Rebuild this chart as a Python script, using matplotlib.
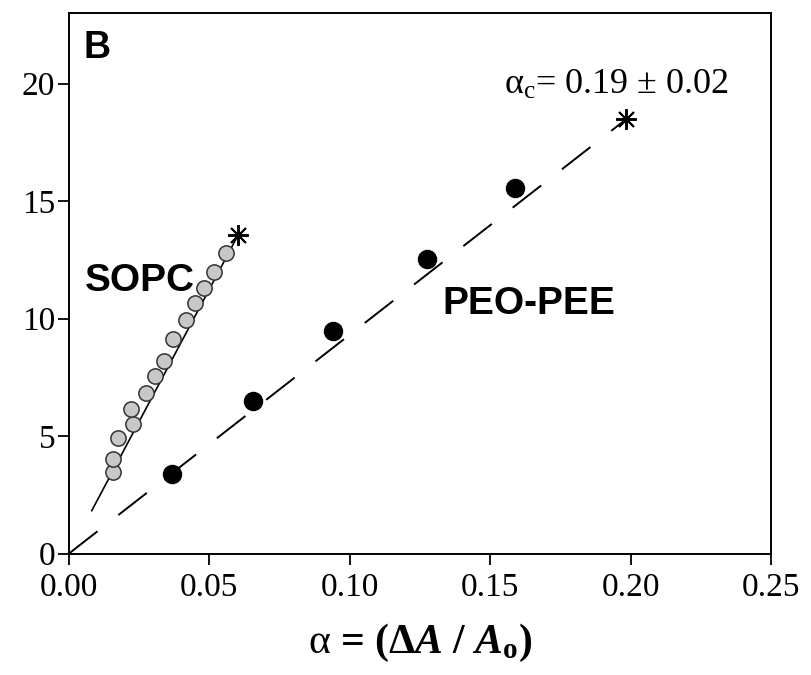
import matplotlib
matplotlib.use("Agg")
import matplotlib.pyplot as plt
import numpy as np

# SOPC data (grey circles) and critical point
sopc_alpha = [0.0158, 0.0158, 0.0176, 0.0229, 0.0221, 0.0274, 0.0306,
              0.0339, 0.0371, 0.0417, 0.0449, 0.0482, 0.0516, 0.0558]
sopc_tension = [3.47, 4.03, 4.92, 5.49, 6.15, 6.81, 7.56,
                8.20, 9.12, 9.92, 10.67, 11.31, 11.98, 12.79]
sopc_crit = (0.0603, 13.57)

# PEO-PEE data (black circles) and critical point
peo_alpha = [0.0366, 0.0656, 0.0940, 0.1274, 0.1588]
peo_tension = [3.37, 6.47, 9.47, 12.53, 15.57]
peo_crit = (0.1984, 18.48)

# linear fit ranges (alpha)
sopc_fit_range = [0.0081, sopc_crit[0]]
peo_fit_range = [0.0, peo_crit[0]]

xticks = [0.00, 0.05, 0.10, 0.15, 0.20, 0.25]
yticks = [0, 5, 10, 15, 20]

plt.rcParams["lines.scale_dashes"] = False
plt.rcParams["mathtext.fontset"] = "custom"
plt.rcParams["mathtext.rm"] = "Liberation Serif"
plt.rcParams["mathtext.it"] = "Liberation Serif:italic"
plt.rcParams["mathtext.bf"] = "Liberation Serif:bold"
plt.rcParams["mathtext.bfit"] = "Liberation Serif:bold:italic"

fig = plt.figure(figsize=(8.12, 6.75), dpi=100)
ax = fig.add_axes([0.085, 0.18, 0.8645, 0.8007])

# fit lines
sx = np.array(sopc_fit_range)
ax.plot(sx, sx * sopc_crit[1] / sopc_crit[0], color="black", lw=1.2, zorder=2)
px = np.array(peo_fit_range)
ax.plot(px, px * peo_crit[1] / peo_crit[0], color="black", lw=1.4,
        dashes=(26, 19), zorder=2)

# data points
ax.plot(sopc_alpha, sopc_tension, "o", ms=11, mfc="#c8c8c8",
        mec="#333333", mew=1.1, zorder=3, linestyle="none")
ax.plot(peo_alpha, peo_tension, "o", ms=13, mfc="black", mec="black",
        zorder=3, linestyle="none")

# critical points
ax.plot(*sopc_crit, marker=(8, 2, 0), ms=15, mec="black", mew=1.4, zorder=4)
ax.plot(*peo_crit, marker=(8, 2, 0), ms=15, mec="black", mew=1.4, zorder=4)

ax.set_xlim(0, 0.25)
ax.set_ylim(0, 23)
ax.set_xticks(xticks)
ax.set_xticklabels([f"{t:.2f}" for t in xticks])
ax.set_yticks(yticks)
ax.set_yticklabels([str(t) for t in yticks])
ax.tick_params(direction="out", length=8, width=1.3, pad=2,
               labelsize=24, labelfontfamily="Liberation Serif")
ax.tick_params(axis="x", pad=6)
for s in ax.spines.values():
    s.set_linewidth(1.4)

# labels
ax.text(0.0053, 21.08, "B", fontsize=27, fontweight="bold",
        family="Liberation Sans", va="baseline")
ax.text(0.0057, 11.17, "SOPC", fontsize=28, fontweight="bold",
        family="Liberation Sans", va="baseline")
ax.text(0.133, 10.19, "PEO-PEE", fontsize=28, fontweight="bold",
        family="Liberation Sans", va="baseline")
ax.text(0.155, 19.55, r"$\mathrm{\alpha}_{\mathrm{c}}$= 0.19 $\pm$ 0.02",
        fontsize=26, family="Liberation Serif", va="baseline")

ax.set_xlabel(r"$\mathrm{\alpha}$ = ($\mathbf{\Delta}\mathbfit{A}$ / $\mathbfit{A}_{\mathbf{o}}$)",
              fontsize=30, fontweight="bold", family="Liberation Serif",
              labelpad=13)

fig.savefig("out.png", dpi=100)
